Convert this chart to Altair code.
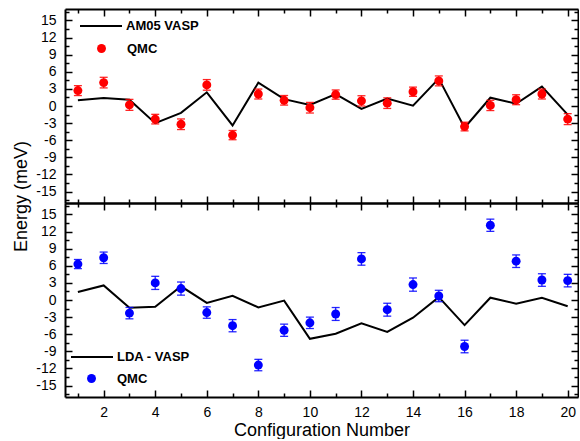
import altair as alt
import pandas as pd

# ---------------- data ----------------
config = list(range(1, 21))

am05_vasp = [1.0, 1.4, 1.1, -3.0, -1.2, 2.4, -3.4, 4.1, 1.2, 0.2,
             2.1, -0.5, 1.3, 0.05, 4.8, -3.8, 1.45, 0.4, 3.4, -1.5]
qmc_top = [2.7, 4.1, 0.2, -2.3, -3.2, 3.7, -5.1, 2.1, 1.0, -0.3,
           2.0, 0.9, 0.5, 2.5, 4.4, -3.6, 0.1, 1.1, 2.1, -2.3]
qmc_top_err = [0.87, 0.93, 0.96, 0.84, 0.93, 0.93, 0.81, 0.87, 0.84, 0.93,
               0.81, 0.9, 0.93, 0.81, 0.87, 0.76, 0.9, 0.87, 0.87, 0.96]

lda_vasp = [1.4, 2.55, -1.35, -1.2, 2.4, -0.5, 0.75, -1.3, -0.1, -6.8,
            -5.9, -4.1, -5.6, -3.1, 0.5, -4.4, 0.4, -0.65, 0.4, -1.1]
qmc_bottom = [6.3, 7.4, -2.3, 3.0, 2.0, -2.2, -4.5, -11.4, -5.3, -4.0,
              -2.45, 7.2, -1.7, 2.7, 0.7, -8.15, 13.1, 6.8, 3.5, 3.4]
qmc_bottom_err = [0.8, 1.0, 1.0, 1.15, 1.15, 1.0, 1.07, 1.0, 1.07, 1.0,
                  1.13, 1.1, 1.13, 1.16, 1.0, 1.1, 1.07, 1.1, 1.1, 1.1]

x_major = [2, 4, 6, 8, 10, 12, 14, 16, 18, 20]
x_minor = [1, 3, 5, 7, 9, 11, 13, 15, 17, 19]
y_major = [-15, -12, -9, -6, -3, 0, 3, 6, 9, 12, 15]
y_minor = [-16.5, -13.5, -10.5, -7.5, -4.5, -1.5, 1.5, 4.5, 7.5, 10.5, 13.5, 16.5]

# ---------------- style ----------------
FONT = "Liberation Sans"
W, H = 513, 194
X_DOMAIN = [0.5, 20.4]
Y_DOMAIN = [-17, 17]
MAJOR, MINOR = 7, 4


def tick_axis(orient, values, size, domain=False):
    return alt.Axis(orient=orient, values=values, labels=False, domain=domain,
                    domainColor="black", domainWidth=2, ticks=True,
                    tickColor="black", tickWidth=1.5,
                    tickSize=alt.ExprRef(expr=str(-size)), grid=False, title=None)


def make_panel(line_vals, qmc_vals, err_vals, line_name, dot_color, bottom, leg):
    df = pd.DataFrame({
        "config": config,
        "line": line_vals,
        "qmc": qmc_vals,
        "err": err_vals,
        "line_series": [line_name] * len(config),
        "qmc_series": ["QMC"] * len(config),
    })
    base = alt.Chart(df).transform_calculate(
        lo="datum.qmc - datum.err", hi="datum.qmc + datum.err")
    xs = alt.Scale(domain=X_DOMAIN, nice=False, zero=False)
    ys = alt.Scale(domain=Y_DOMAIN, nice=False, zero=False)

    x_lab = alt.Axis(orient="bottom", values=x_major, labels=bottom, ticks=False,
                     domain=True, domainColor="black", domainWidth=2,
                     labelFont=FONT, labelFontSize=14, labelColor="black",
                     labelPadding=8, labelExpr="datum.value", grid=False,
                     title="Configuration Number" if bottom else None,
                     titleFont=FONT, titleFontSize=18, titleFontWeight="normal",
                     titleColor="black", titlePadding=2)
    y_kwargs = dict(orient="left", values=y_major, labels=True, ticks=False,
                    domain=True, domainColor="black", domainWidth=2,
                    labelFont=FONT, labelFontSize=14, labelColor="black",
                    labelPadding=9, labelExpr="datum.value", grid=False)
    if bottom:
        y_lab = alt.Axis(title=None, **y_kwargs)
    else:
        y_lab = alt.Axis(title="Energy (meV)", titleFont=FONT, titleFontSize=18,
                         titleFontWeight="normal", titleColor="black",
                         titleX=-44, titleY=187, titleAlign="center",
                         titleBaseline="middle", titleAngle=270, **y_kwargs)

    line = base.mark_line(strokeWidth=2).encode(
        x=alt.X("config:Q", scale=xs, axis=x_lab),
        y=alt.Y("line:Q", scale=ys, axis=y_lab),
        color=alt.Color("line_series:N",
                        scale=alt.Scale(domain=[line_name], range=["black"]),
                        legend=alt.Legend(orient="none", legendX=leg[0], legendY=leg[1],
                                          title=None, symbolType="stroke",
                                          symbolSize=1764, symbolStrokeWidth=2,
                                          labelFont=FONT, labelFontSize=13,
                                          labelFontWeight="bold", labelColor="black",
                                          labelOffset=3, padding=0)),
    )
    rule = base.mark_rule(strokeWidth=1.3, color=dot_color, opacity=0.85).encode(
        x=alt.X("config:Q", scale=xs, axis=tick_axis("bottom", x_major, MAJOR)),
        y=alt.Y("lo:Q", scale=ys, axis=tick_axis("left", y_major, MAJOR)),
        y2="hi:Q",
    )
    cap_lo = base.mark_tick(orient="horizontal", size=8, thickness=1.3,
                            color=dot_color, opacity=0.85).encode(
        x=alt.X("config:Q", scale=xs, axis=tick_axis("bottom", x_minor, MINOR)),
        y=alt.Y("lo:Q", scale=ys, axis=tick_axis("left", y_minor, MINOR)),
    )
    cap_hi = base.mark_tick(orient="horizontal", size=8, thickness=1.3,
                            color=dot_color, opacity=0.85).encode(
        x=alt.X("config:Q", scale=xs, axis=tick_axis("top", x_major, MAJOR, True)),
        y=alt.Y("hi:Q", scale=ys, axis=tick_axis("right", y_major, MAJOR, True)),
    )
    pts = base.mark_circle(size=80, opacity=1).encode(
        x=alt.X("config:Q", scale=xs, axis=tick_axis("top", x_minor, MINOR)),
        y=alt.Y("qmc:Q", scale=ys, axis=tick_axis("right", y_minor, MINOR)),
        fill=alt.Fill("qmc_series:N",
                      scale=alt.Scale(domain=["QMC"], range=[dot_color]),
                      legend=alt.Legend(orient="none", legendX=leg[2], legendY=leg[3],
                                        title=None, symbolType="circle",
                                        symbolSize=80, symbolStrokeWidth=0,
                                        labelFont=FONT, labelFontSize=13,
                                        labelFontWeight="bold", labelColor="black",
                                        labelOffset=19, padding=0)),
    )
    return alt.layer(line, rule, cap_lo, cap_hi, pts).resolve_axis(
        x="independent", y="independent").properties(width=W, height=H)


top = make_panel(am05_vasp, qmc_top, qmc_top_err, "AM05 VASP", "#ff0000", False,
                 (14, -5, 30, 33))
bot = make_panel(lda_vasp, qmc_bottom, qmc_bottom_err, "LDA - VASP", "#0000ff", True,
                 (5, 132, 20, 169))

chart = alt.vconcat(top, bot, spacing=0).resolve_scale(
    color="independent", fill="independent").resolve_legend(
    color="independent", fill="independent").properties(
    bounds="flush", padding={"left": 12, "top": 4, "right": 0, "bottom": 0}
).configure_view(stroke=None)

chart.save("out.html", embed_options={"renderer": "svg", "actions": False})
